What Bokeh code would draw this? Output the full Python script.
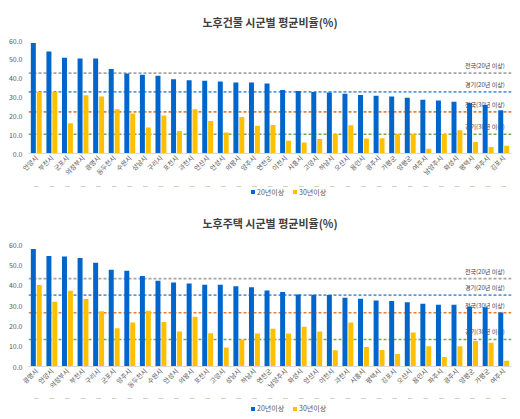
import math
from bokeh.plotting import figure
from bokeh.models import (ColumnDataSource, FactorRange, FixedTicker, PrintfTickFormatter,
                          Span, Legend, LegendItem)
from bokeh.transform import dodge
from bokeh.layouts import column
from bokeh.embed import file_html
from bokeh.resources import INLINE
from bokeh.core.properties import value

# ---------------- data ----------------
title1 = "노후건물 시군별 평균비율(%)"
cities1 = ["안양시", "부천시", "군포시", "의정부시", "광명시", "동두천시", "수원시", "성남시",
           "구리시", "포천시", "과천시", "안산시", "안성시", "의왕시", "양주시", "연천군",
           "이천시", "시흥시", "고양시", "하남시", "오산시", "용인시", "광주시", "가평군",
           "양평군", "여주시", "남양주시", "화성시", "평택시", "파주시", "김포시"]
bld_20 = [58.7, 54.1, 50.8, 50.5, 50.5, 44.9, 42.5, 41.8, 41.3, 39.4, 38.9, 38.6, 38.2, 37.7,
          37.7, 37.2, 33.7, 33.2, 32.7, 32.4, 31.7, 31.1, 30.6, 30.3, 29.6, 28.6, 28.1, 27.5,
          26.8, 25.8, 22.9]
bld_30 = [32.7, 32.7, 16.0, 30.9, 30.3, 23.5, 21.2, 13.8, 20.2, 11.9, 23.5, 17.3, 11.2, 19.4,
          14.8, 15.1, 6.8, 5.8, 7.7, 10.3, 15.0, 8.0, 8.1, 10.4, 10.4, 2.5, 10.4, 12.4, 6.1,
          3.5, 4.1]
bld_ref = [42.7, 32.7, 22.1, 10.2]

title2 = "노후주택 시군별 평균비율(%)"
cities2 = ["광명시", "안양시", "의정부시", "부천시", "구리시", "군포시", "양주시", "동두천시",
           "수원시", "안성시", "의왕시", "포천시", "고양시", "성남시", "하남시", "연천군",
           "남양주시", "화성시", "안산시", "이천시", "과천시", "시흥시", "평택시", "김포시",
           "오산시", "용인시", "파주시", "광주시", "양평군", "가평군", "여주시"]
hou_20 = [57.8, 54.4, 54.1, 53.4, 51.0, 47.6, 47.1, 44.5, 42.2, 41.3, 40.8, 40.2, 40.2, 39.5,
          39.0, 37.4, 36.7, 35.4, 35.3, 35.2, 33.8, 33.3, 32.4, 32.2, 31.6, 30.8, 30.4, 30.4,
          29.5, 29.1, 26.6]
hou_30 = [40.1, 31.9, 37.2, 33.2, 27.2, 18.8, 21.6, 27.4, 21.9, 17.2, 24.5, 16.3, 9.4, 13.1,
          16.2, 18.6, 16.2, 19.6, 17.2, 8.0, 21.6, 9.6, 8.1, 6.2, 16.7, 10.0, 4.7, 9.9, 12.5,
          11.7, 2.8]
hou_ref = [43.2, 35.1, 26.4, 13.3]

ref_labels = ["전국(20년 이상)", "경기(20년 이상)", "전국(30년 이상)", "경기(30년 이상)"]
series_names = ["20년이상", "30년이상"]
y_ticks = [0, 10, 20, 30, 40, 50, 60]

# ---------------- style ----------------
FONT = "Noto Sans CJK KR"
BLUE = "#0066CC"
YELLOW = "#FFC000"
REF_COLORS = ["#A5A5A5", "#5B9BD5", "#ED7D31", "#70AD47"]
TXT = "#595959"
W = 520


def make_chart(title, src, cities, refs, height, top, bottom, title_gap):
    p = figure(x_range=FactorRange(factors=cities), y_range=(0, 60),
               width=W, height=height, output_backend="svg", toolbar_location=None,
               min_border_left=28, min_border_right=9, min_border_top=top,
               min_border_bottom=bottom, title=title)
    p.title.align = "center"
    p.title.text_font = FONT
    p.title.text_font_size = "11px"
    p.title.text_font_style = "bold"
    p.title.text_color = "#404040"
    p.title.standoff = title_gap
    p.outline_line_color = None
    p.xgrid.grid_line_color = None
    p.ygrid.grid_line_color = None

    for val, col in zip(refs, REF_COLORS):
        p.add_layout(Span(location=val, dimension="width", line_color=col,
                          line_dash="3 2", line_width=1.6, level="underlay"))
    p.text(x=[cities[-1]] * len(refs), y=refs, text=ref_labels, text_align="right",
           text_baseline="bottom", x_offset=1, y_offset=-3, text_font_size="6px",
           text_color="#404040", text_font=value(FONT), level="underlay")

    p.vbar(x=dodge("city", -0.19, range=p.x_range), top="v20", width=0.32,
           source=src, fill_color=BLUE, line_color=None)
    p.vbar(x=dodge("city", 0.19, range=p.x_range), top="v30", width=0.32,
           source=src, fill_color=YELLOW, line_color=None)

    p.yaxis.ticker = FixedTicker(ticks=y_ticks)
    p.yaxis.formatter = PrintfTickFormatter(format="%.1f")
    for ax in (p.xaxis, p.yaxis):
        ax.major_tick_line_color = None
        ax.minor_tick_line_color = None
        ax.major_tick_out = 0
        ax.major_tick_in = 0
        ax.major_label_text_font = FONT
        ax.major_label_text_color = TXT
    p.yaxis.axis_line_color = None
    p.yaxis.major_label_text_font_size = "7px"
    p.yaxis.major_label_standoff = 6
    p.xaxis.axis_line_color = "#D9D9D9"
    p.xaxis.major_label_text_font_size = "6.5px"
    p.xaxis.major_label_orientation = math.pi / 4
    p.xaxis.major_label_standoff = 3
    return p


def make_legend(src, cities, height, loc):
    # a strip holding only the legend; its bars lie outside its (negative) y range
    lf = figure(width=W, height=height, x_range=FactorRange(factors=cities),
                y_range=(-2, -1), output_backend="svg", toolbar_location=None,
                title=None, x_axis_location=None, y_axis_location=None, min_border=0)
    lf.outline_line_color = None
    lf.xgrid.grid_line_color = None
    lf.ygrid.grid_line_color = None
    k1 = lf.vbar(x="city", top="v20", width=0.3, source=src,
                 fill_color=BLUE, line_color=None)
    k2 = lf.vbar(x="city", top="v30", width=0.3, source=src,
                 fill_color=YELLOW, line_color=None)
    legend = Legend(items=[LegendItem(label=series_names[0], renderers=[k1]),
                           LegendItem(label=series_names[1], renderers=[k2])],
                    orientation="horizontal", location=loc,
                    label_text_font=FONT, label_text_font_size="7px",
                    label_text_color=TXT, glyph_width=5, glyph_height=5,
                    label_height=9, label_standoff=2, spacing=8, padding=0, margin=0,
                    border_line_color=None, background_fill_alpha=0)
    lf.add_layout(legend)
    return lf


src1 = ColumnDataSource(dict(city=cities1, v20=bld_20, v30=bld_30))
src2 = ColumnDataSource(dict(city=cities2, v20=hou_20, v30=hou_30))

p1 = make_chart(title1, src1, cities1, bld_ref, 186, 36, 33, 22)
l1 = make_legend(src1, cities1, 12, (222, 1.5))
p2 = make_chart(title2, src2, cities2, hou_ref, 200, 44, 32, 28)
l2 = make_legend(src2, cities2, 21, (222, 6))

layout = column(p1, l1, p2, l2, spacing=0)
open("out.html", "w").write(file_html(layout, INLINE))
